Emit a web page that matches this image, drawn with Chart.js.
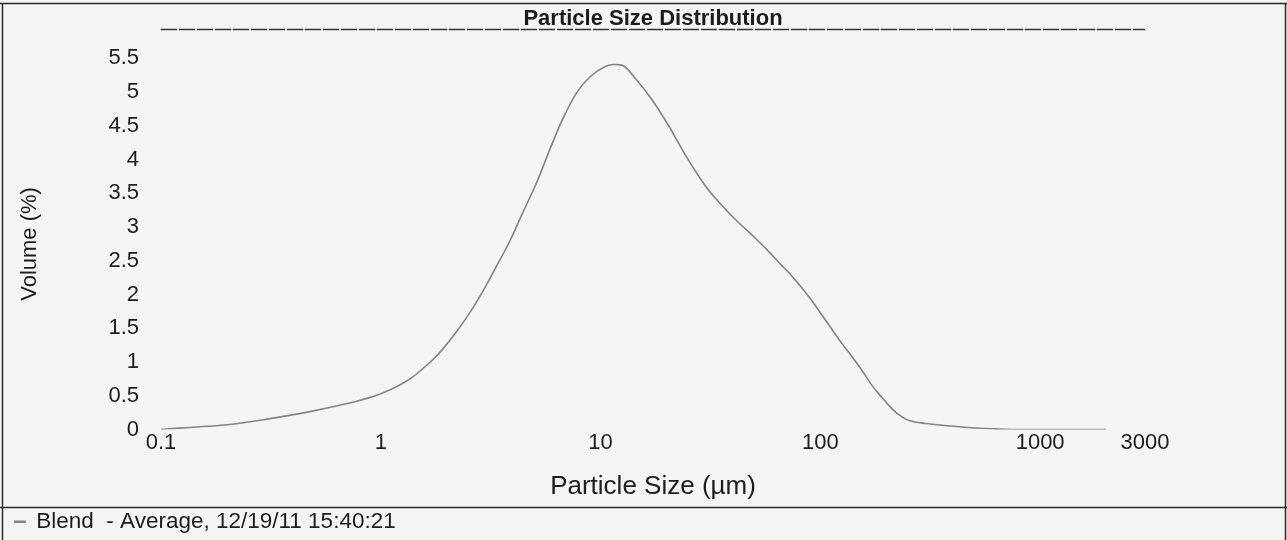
<!DOCTYPE html>
<html>
<head>
<meta charset="utf-8">
<script src="https://cdn.jsdelivr.net/npm/chart.js@4.4.1/dist/chart.umd.min.js"></script>
<style>
  html, body { margin: 0; padding: 0; background: #f4f4f4; }
  #wrap { width: 1287px; height: 540px; position: relative; }
</style>
</head>
<body>
<div id="wrap"><canvas id="c" width="1287" height="540"></canvas></div>
<script>
// ---- data ----
const chartTitle = 'Particle Size Distribution';
const xAxisTitle = 'Particle Size (µm)';
const yAxisTitle = 'Volume (%)';
const seriesLabel = 'Blend  - Average, 12/19/11 15:40:21';

const particleSizes = [0.1, 0.12, 0.15, 0.2, 0.3, 0.4, 0.5, 0.65, 0.8, 1.0, 1.22, 1.4, 1.55, 1.72, 1.9, 2.2, 2.6, 3.0, 3.4, 3.86, 4.42, 5.12, 5.86, 6.72, 7.78, 8.91, 10.5, 11.5, 12.5, 14.6, 17.2, 20.6, 24.6, 30.3, 35, 40, 50, 57, 65, 74, 80, 90, 100, 112, 125, 140, 155, 172, 190, 206, 225, 246, 270, 300, 370, 470, 600, 750, 1000, 1500, 2000];
const volumePercent = [0.00, 0.02, 0.04, 0.07, 0.15, 0.22, 0.28, 0.36, 0.43, 0.53, 0.66, 0.78, 0.90, 1.03, 1.18, 1.44, 1.78, 2.12, 2.45, 2.79, 3.21, 3.66, 4.14, 4.60, 4.99, 5.22, 5.38, 5.41, 5.40, 5.18, 4.88, 4.48, 4.04, 3.59, 3.35, 3.15, 2.85, 2.67, 2.47, 2.28, 2.15, 1.94, 1.73, 1.50, 1.28, 1.07, 0.87, 0.65, 0.48, 0.35, 0.23, 0.15, 0.11, 0.09, 0.06, 0.03, 0.01, 0.00, 0.00, 0.00, 0.00];

const xTickValues = [0.1, 1, 10, 100, 1000, 3000];
const yTickMin = 0;
const yTickMax = 5.5;
const yTickStep = 0.5;

// ---- styling ----
const INK = '#1c1c1c';
const CURVE = '#848484';
Chart.defaults.font.family = "'Liberation Sans', Arial, Helvetica, sans-serif";
Chart.defaults.color = INK;

const frame = {
  id: 'frame',
  beforeDraw(chart) {
    const ctx = chart.ctx;
    ctx.save();
    ctx.fillStyle = '#f5f5f5';
    ctx.fillRect(0, 0, chart.width, chart.height);
    ctx.restore();
  },
  afterDraw(chart) {
    const ctx = chart.ctx;
    const a = chart.chartArea;
    ctx.save();
    ctx.strokeStyle = '#2a2a2a';
    ctx.lineWidth = 1.5;
    // outer frame
    ctx.beginPath();
    ctx.moveTo(0, 3.5); ctx.lineTo(chart.width, 3.5);
    ctx.moveTo(2.5, 3.5); ctx.lineTo(2.5, chart.height);
    ctx.moveTo(chart.width - 1.5, 3.5); ctx.lineTo(chart.width - 1.5, chart.height);
    ctx.stroke();
    // separator above the legend
    const lg = chart.legend;
    const sepY = Math.round(lg.top) - 3.5;
    ctx.beginPath();
    ctx.moveTo(0, sepY); ctx.lineTo(chart.width, sepY);
    ctx.stroke();
    // title underline
    ctx.strokeStyle = '#333';
    ctx.lineWidth = 1.3;
    ctx.setLineDash([16, 2]);
    ctx.beginPath();
    ctx.moveTo(a.left, 29.5); ctx.lineTo(a.right, 29.5);
    ctx.stroke();
    ctx.restore();
  }
};

const points = particleSizes.map((s, i) => ({ x: s, y: volumePercent[i] }));

new Chart(document.getElementById('c'), {
  type: 'line',
  data: {
    datasets: [{
      label: seriesLabel,
      data: points,
      borderColor: CURVE,
      backgroundColor: CURVE,
      borderWidth: 1.6,
      pointRadius: 0,
      fill: false,
      cubicInterpolationMode: 'monotone'
    }]
  },
  options: {
    responsive: false,
    animation: false,
    layout: { padding: { left: 14, right: 142, top: 0, bottom: -3 } },
    plugins: {
      title: {
        display: true,
        text: chartTitle,
        fullSize: false,
        color: INK,
        font: { size: 22, weight: 'bold' },
        padding: { top: 6, bottom: 26 }
      },
      legend: {
        display: true,
        position: 'bottom',
        align: 'start',
        labels: {
          boxWidth: 11,
          boxHeight: 1,
          padding: 0,
          color: INK,
          font: { size: 22.5 }
        }
      },
      tooltip: { enabled: false }
    },
    scales: {
      x: {
        type: 'logarithmic',
        min: xTickValues[0],
        max: xTickValues[xTickValues.length - 1],
        grid: { display: false, drawTicks: false },
        border: { display: false },
        afterBuildTicks(scale) { scale.ticks = xTickValues.map(v => ({ value: v })); },
        afterFit(scale) { scale.height = 81; },
        ticks: {
          autoSkip: false,
          maxRotation: 0,
          padding: 0,
          color: INK,
          font: { size: 22 },
          callback: (v) => String(v)
        },
        title: {
          display: true,
          text: xAxisTitle,
          color: INK,
          font: { size: 26 },
          padding: { top: 0, bottom: 8 }
        }
      },
      y: {
        type: 'linear',
        min: yTickMin,
        max: yTickMax,
        grid: { display: false, drawTicks: false },
        border: { display: false },
        afterFit(scale) { scale.width = 147; },
        ticks: {
          stepSize: yTickStep,
          padding: 22,
          color: INK,
          font: { size: 22 },
          callback: (v) => String(Math.round(v * 10) / 10)
        },
        title: {
          display: true,
          text: yAxisTitle,
          color: INK,
          font: { size: 22 },
          padding: { top: 3, bottom: 0 }
        }
      }
    }
  },
  plugins: [frame]
});
</script>
</body>
</html>
